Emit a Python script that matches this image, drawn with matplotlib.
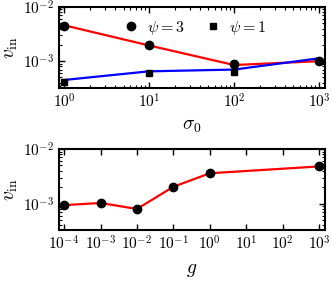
import matplotlib
matplotlib.use('Agg')
import matplotlib.pyplot as plt
from matplotlib.ticker import FuncFormatter, NullFormatter
import numpy as np

plt.rcParams['mathtext.fontset'] = 'cm'
plt.rcParams['font.family'] = 'serif'
plt.rcParams['font.serif'] = ['DejaVu Serif']
plt.rcParams['font.size'] = 11

# top panel: v_in vs sigma_0
sigma0 = [1, 10, 100, 1000]
vin_psi3 = [4.5e-3, 1.95e-3, 8.8e-4, 1.0e-3]
vin_psi1 = [4.1e-4, 6.0e-4, 6.4e-4, 1.0e-3]
fit_psi3 = [4.6e-3, 1.95e-3, 8.5e-4, 1.0e-3]
fit_psi1 = [4.5e-4, 6.5e-4, 7.0e-4, 1.13e-3]

# bottom panel: v_in vs g
g = [1e-4, 1e-3, 1e-2, 1e-1, 1e0, 1e3]
vin_g = [9.4e-4, 1.03e-3, 8.0e-4, 2.04e-3, 3.6e-3, 4.8e-3]

def pow10(v, pos):
    return r'$10^{%d}$' % int(round(np.log10(v)))

fig = plt.figure(figsize=(3.32, 2.82), dpi=100)
ax1 = fig.add_axes([59/332, 1-88/282, 266/332, 81/282])
ax2 = fig.add_axes([59/332, 1-230/282, 266/332, 81/282])

ax1.plot(sigma0, fit_psi3, color='red', lw=1.6, zorder=2)
ax1.plot(sigma0, fit_psi1, color='blue', lw=1.6, zorder=2)
ax1.plot(sigma0, vin_psi3, 'o', color='black', ms=6, zorder=3, label=r'$\psi=3$')
ax1.plot(sigma0, vin_psi1, 's', color='black', ms=4.5, zorder=3, label=r'$\psi=1$')
ax1.set_xscale('log')
ax1.set_yscale('log')
ax1.set_xlim(0.87, 1177)
ax1.set_ylim(3.2e-4, 1e-2)
ax1.set_xlabel(r'$\sigma_0$', fontsize=14, labelpad=4)
ax1.set_ylabel(r'$v_{\rm in}$', fontsize=14, labelpad=2)
ax1.legend(loc='upper center', ncol=2, frameon=False, fontsize=11.5,
           bbox_to_anchor=(0.51, 1.03), handlelength=1.0,
           handletextpad=0.5, columnspacing=1.3)

ax2.plot(g, vin_g, color='red', lw=1.6, zorder=2)
ax2.plot(g, vin_g, 'o', color='black', ms=6, zorder=3)
ax2.set_xscale('log')
ax2.set_yscale('log')
ax2.set_xlim(10**-4.14, 10**3.16)
ax2.set_ylim(3.3e-4, 1e-2)
ax2.set_xticks([1e-4, 1e-3, 1e-2, 1e-1, 1e0, 1e1, 1e2, 1e3])
ax2.set_xlabel(r'$g$', fontsize=14, labelpad=6)
ax2.set_ylabel(r'$v_{\rm in}$', fontsize=14, labelpad=2)

for ax in (ax1, ax2):
    ax.xaxis.set_major_formatter(FuncFormatter(pow10))
    ax.yaxis.set_major_formatter(FuncFormatter(pow10))
    ax.xaxis.set_minor_formatter(NullFormatter())
    ax.yaxis.set_minor_formatter(NullFormatter())
    ax.tick_params(which='both', direction='in', top=True, right=True, labelsize=11)
    ax.tick_params(which='major', length=4.5, width=1)
    ax.tick_params(which='minor', length=2.5, width=0.8)
    for s in ax.spines.values():
        s.set_linewidth(1.5)

fig.savefig('out.png', dpi=100)
